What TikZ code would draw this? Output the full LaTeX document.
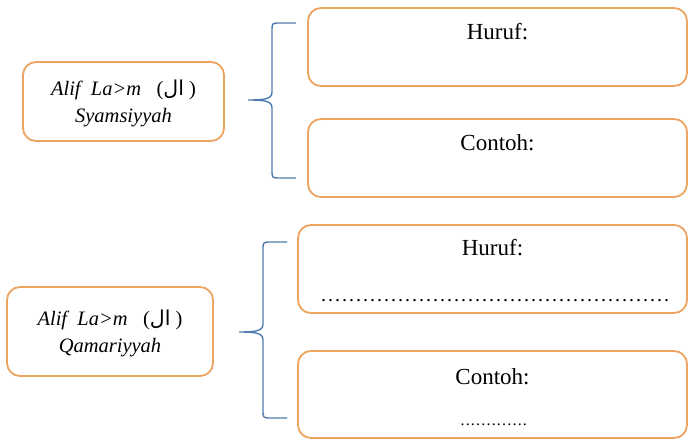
\documentclass[tikz,border=0pt]{standalone}
\usepackage{fontspec}
\setmainfont{Liberation Serif}
\newfontfamily\arabicfont[Script=Arabic]{DejaVu Sans}
\TeXXeTstate=1
\definecolor{boxorange}{RGB}{236,164,96}
\definecolor{braceblue}{RGB}{80,125,175}
\newcommand{\drawbrace}[6]{% xv, xend, top, bottom, tipx, tipy
  \draw[bracestyle] (#2,#3) -- (#1+8,#3) .. controls (#1,#3) .. (#1,#3+8)
    -- (#1,#6-8) .. controls (#1,#6-1) and (#1-7,#6) .. (#5,#6)
    .. controls (#1-7,#6) and (#1,#6+1) .. (#1,#6+8)
    -- (#1,#4-8) .. controls (#1,#4) .. (#1+8,#4) -- (#2,#4);}
\newcommand{\alword}{\upshape(\beginR{\arabicfont ال}\endR\ )}
\begin{document}
\begin{tikzpicture}[x=1pt,y=-1pt,
  obox/.style={draw=boxorange, line width=1.8pt, rounded corners=13pt, fill=white, inner sep=0pt},
  bracestyle/.style={draw=braceblue, line width=1.4pt},
  lefttext/.style={font=\fontsize{20.5}{27}\selectfont\itshape, align=center},
  righttext/.style={font=\fontsize{23}{26}\selectfont, anchor=base}]
\useasboundingbox (0,0) rectangle (688,440);
\fill[white] (0,0) rectangle (688,440);

% top group
\node[obox, minimum width=201pt, minimum height=79pt] (sbox) at (123.5,101.5) {};
\node[lefttext] (stext) at (123.5,103) {Alif\ \ La>m\ \ \ \alword\\Syamsiyyah};
\node[obox, minimum width=379pt, minimum height=78pt] (shuruf) at (497.5,47) {};
\node[righttext] (shuruft) at (497.5,39) {Huruf:};
\node[obox, minimum width=379pt, minimum height=78pt] (scontoh) at (497.5,158) {};
\node[righttext] (scontoht) at (497.5,150) {Contoh:};
\drawbrace{272}{296}{23}{178}{248}{100}

% bottom group
\node[obox, minimum width=206pt, minimum height=89pt] (qbox) at (110,331.5) {};
\node[lefttext] (qtext) at (110,333) {Alif\ \ La>m\ \ \ \alword\\Qamariyyah};
\node[obox, minimum width=389pt, minimum height=88pt] (qhuruf) at (492.5,269) {};
\node[righttext] (qhuruft) at (492.5,255) {Huruf:};
\node[anchor=base, inner sep=0pt, font=\fontsize{20}{24}\selectfont] (qhurufdots) at (496,301)
  {\hbox to 352pt{\leaders\hbox to 7pt{\hss.\hss}\hfill}};
\node[obox, minimum width=389pt, minimum height=87pt] (qcontoh) at (492.5,394.5) {};
\node[righttext] (qcontoht) at (492.5,384) {Contoh:};
\node[anchor=base, inner sep=0pt, font=\fontsize{16}{20}\selectfont] (qcontohdots) at (494,425)
  {\hbox to 68pt{\leaders\hbox to 5.2pt{\hss.\hss}\hfill}};
\drawbrace{263}{287}{242}{418}{239}{332}
\end{tikzpicture}
\end{document}
